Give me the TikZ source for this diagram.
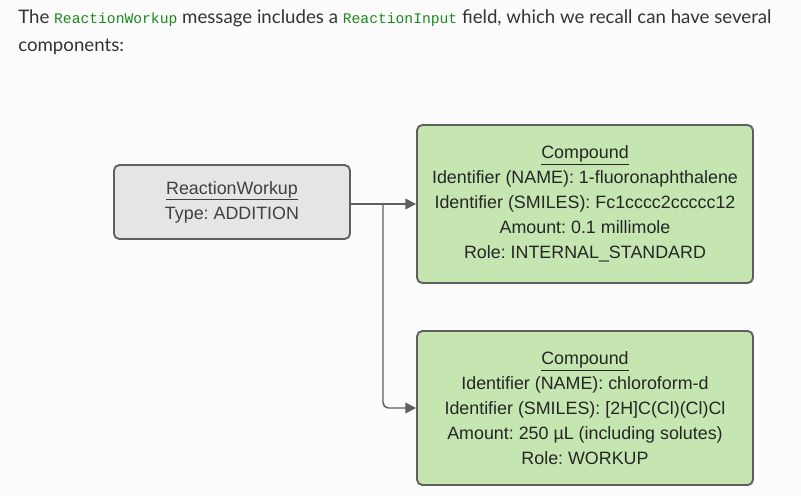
\documentclass[tikz,border=0pt]{standalone}
\usepackage{fontspec}
\setmainfont{Lato}
\setsansfont{Liberation Sans}
\setmonofont{Liberation Mono}
\usetikzlibrary{arrows.meta}
\usetikzlibrary{positioning}

\definecolor{pagebg}{HTML}{FCFCFC}
\definecolor{codegreen}{HTML}{1A8A1A}
\definecolor{bodytext}{HTML}{333333}
\definecolor{wkfill}{HTML}{E5E5E5}
\definecolor{cpfill}{HTML}{C5E6B0}
\definecolor{edge}{HTML}{5F5F5F}

\newcommand{\codeword}[1]{{\ttfamily\fontsize{11}{12}\selectfont\color{codegreen}#1}}

\begin{document}
\frenchspacing
\begin{tikzpicture}[x=0.75pt, y=-0.75pt,
    intro/.style={anchor=west, inner sep=0pt, text=bodytext, font=\fontsize{14}{16}\selectfont},
    msgbox/.style={draw=edge, line width=1.4pt, rounded corners=4pt, align=center,
                   text=black!85, font=\sffamily\fontsize{13.4}{18.75}\selectfont},
    workup/.style={msgbox, fill=wkfill, minimum width=177pt, minimum height=55.5pt, text=black!75},
    compound/.style={msgbox, fill=cpfill, minimum width=252pt},
    link/.style={draw=edge, line width=1.1pt, -{Triangle[length=8pt, width=8pt]}}]

        % Page and its margins
        \fill[pagebg] (0,0) rectangle (801,496);
        \useasboundingbox (0,0) rectangle (801,496);

        % Text above the diagram
        \node[intro] (intro1) at (18,18) {The \codeword{ReactionWorkup} message includes a \codeword{ReactionInput} field, which we recall can have several};
        \node[intro] (intro2) at (18,47) {components:};

        % The workup message
        \node[workup] (wk) at (232,202) {\underline{ReactionWorkup}\\Type: ADDITION};

        % Its two input components
        \node[compound, minimum height=118.5pt] (cp1) at (585,204)
          {\underline{Compound}\\Identifier (NAME): 1-fluoronaphthalene\\Identifier (SMILES): Fc1cccc2ccccc12\\Amount: 0.1 millimole\\Role: INTERNAL\_STANDARD};
        \node[compound, minimum height=115.5pt] (cp2) at (585,408)
          {\underline{Compound}\\Identifier (NAME): chloroform-d\\Identifier (SMILES): [2H]C(Cl)(Cl)Cl\\Amount: 250 µL (including solutes)\\Role: WORKUP};

        % Connectors
        \coordinate (split) at (383,204);
        \draw[link] (wk.east |- cp1.west) -- (cp1.west);
        \draw[link, rounded corners=4pt] (split) |- (cp2.west);

      \end{tikzpicture}
\end{document}
